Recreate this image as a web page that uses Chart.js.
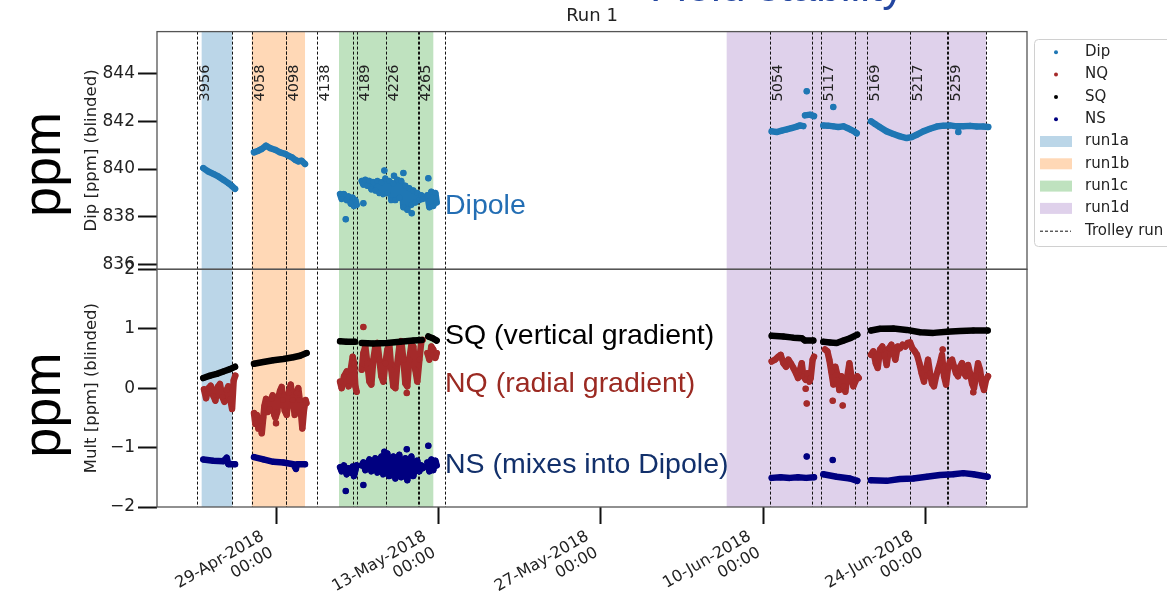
<!DOCTYPE html>
<html>
<head>
<meta charset="utf-8">
<script src="https://cdn.jsdelivr.net/npm/chart.js@4.4.1/dist/chart.umd.min.js"></script>
<style>
  html, body { margin: 0; padding: 0; background: #fff; overflow: hidden; }
</style>
</head>
<body>
<canvas id="run1" width="1167" height="592"></canvas>
<script>
// x values are days since 29-Apr-2018 00:00

const xTickDays = [0, 14, 28, 42, 56]
const xTickDates = ['29-Apr-2018', '13-May-2018', '27-May-2018', '10-Jun-2018', '24-Jun-2018']

const runNames = ['run1a', 'run1b', 'run1c', 'run1d']
const runStart = [-6.41, -2.09, 5.43, 38.85]
const runEnd = [-3.77, 2.50, 13.56, 61.21]

const trolleyDays = [-6.78, -3.77, -2.09, 0.82, 0.90, 3.51, 6.61, 7.01, 9.48, 12.23, 12.31, 14.57,
  42.59, 46.18, 46.98, 49.94, 50.92, 54.66, 57.87, 57.95, 61.21]
const trolleyRunNumbers = ['3956', '4058', '4098', '4138', '4189', '4226', '4265', '5054', '5117', '5169', '5217', '5259']
const trolleyLabelDays = [-6.78, -2.09, 0.86, 3.51, 7.01, 9.48, 12.27, 42.59, 46.98, 50.92, 54.66, 57.91]

// Dipole [ppm]
const dipSegments = [
  [[-6.27, 840.04], [-5.84, 839.90], [-5.41, 839.80], [-4.97, 839.69], [-4.54, 839.55], [-4.11, 839.41], [-3.82, 839.30], [-3.53, 839.17]],
  [[-1.90, 840.70], [-1.52, 840.77], [-1.23, 840.84], [-0.86, 840.98], [-0.52, 840.88], [-0.09, 840.81], [0.34, 840.70], [0.78, 840.64],
   [1.06, 840.56], [1.35, 840.50], [1.64, 840.39], [1.92, 840.32], [2.21, 840.35], [2.50, 840.21]],
  [[5.52, 838.95], [5.66, 838.75], [5.86, 838.95], [6.09, 838.70], [6.26, 838.85], [6.44, 838.55], [6.61, 838.80], [6.72, 838.45], [6.84, 838.70], [6.95, 838.50]],
  [[7.39, 839.50], [7.53, 839.35], [7.70, 839.55], [7.87, 839.30], [8.05, 839.50], [8.22, 839.15], [8.39, 839.45], [8.56, 839.10],
   [8.74, 839.50], [8.91, 839.00], [9.08, 839.45], [9.25, 838.95], [9.43, 839.60], [9.60, 839.00], [9.77, 839.50], [9.94, 838.70],
   [10.11, 839.40], [10.29, 838.70], [10.46, 839.55], [10.63, 838.80], [10.80, 839.50], [10.98, 838.40], [11.15, 839.30], [11.32, 838.30],
   [11.49, 839.20], [11.67, 838.50], [11.84, 839.10], [12.01, 838.60], [12.18, 839.00], [12.36, 838.70], [12.53, 838.90], [12.64, 838.75]],
  [[13.05, 838.90], [13.22, 838.40], [13.39, 839.05], [13.56, 838.45], [13.74, 839.00], [13.85, 838.60]],
  [[42.73, 841.58], [43.16, 841.55], [43.59, 841.61], [44.02, 841.66], [44.45, 841.72], [44.89, 841.78], [45.17, 841.83], [45.46, 841.80]],
  [[45.60, 842.25], [46.03, 842.28], [46.38, 842.22]],
  [[47.18, 841.83], [47.61, 841.82], [48.04, 841.79], [48.47, 841.76], [48.91, 841.79], [49.25, 841.72], [49.54, 841.65], [49.83, 841.58], [50.06, 841.50]],
  [[51.29, 842.00], [51.64, 841.89], [52.07, 841.75], [52.64, 841.58], [53.22, 841.47], [53.79, 841.37], [54.37, 841.30], [54.80, 841.34],
   [55.23, 841.44], [55.80, 841.58], [56.38, 841.69], [56.96, 841.78], [57.53, 841.82], [58.10, 841.83], [58.68, 841.79], [59.25, 841.79],
   [59.83, 841.81], [60.40, 841.78], [60.97, 841.78], [61.40, 841.76]]
]
const dipOutliers = [[6.01, 837.90], [7.53, 838.57], [9.34, 839.94], [10.17, 839.72], [10.98, 839.83], [13.13, 839.62],
  [11.70, 838.15], [45.75, 843.26], [48.04, 842.60], [58.82, 841.55]]

// Normal quadrupole [ppm]
const nqSegments = [
  [[-6.21, -0.02], [-6.03, -0.17], [-5.83, 0.00], [-5.63, 0.04], [-5.40, -0.13], [-5.23, -0.21], [-5.03, 0.02], [-4.83, 0.07],
   [-4.63, -0.15], [-4.45, -0.23], [-4.25, -0.03], [-4.11, 0.03], [-3.94, -0.19], [-3.79, -0.35], [-3.65, 0.13], [-3.51, 0.21]],
  [[-1.90, -0.42], [-1.78, -0.60], [-1.65, -0.45], [-1.52, -0.68], [-1.38, -0.55], [-1.23, -0.76], [-1.10, -0.50], [-1.00, -0.30],
   [-0.86, -0.18], [-0.70, -0.40], [-0.55, -0.35], [-0.40, -0.18], [-0.29, -0.12], [-0.15, -0.45], [-0.05, -0.50], [0.11, -0.40],
   [0.25, -0.12], [0.34, -0.05], [0.49, 0.02], [0.60, -0.20], [0.75, -0.38], [0.92, -0.45], [1.09, -0.08], [1.27, 0.06],
   [1.44, -0.20], [1.61, -0.45], [1.78, -0.08], [1.92, 0.00], [2.05, -0.20], [2.27, -0.68], [2.41, -0.37], [2.55, -0.20], [2.62, -0.25]],
  [[5.52, 0.11], [5.66, 0.00], [5.86, 0.20], [6.09, 0.28], [6.26, 0.03], [6.44, 0.31], [6.61, 0.53], [6.72, 0.42], [6.84, 0.03], [6.95, -0.06]],
  [[7.39, 0.31], [7.53, 0.59], [7.70, 0.70], [7.87, 0.42], [8.05, 0.11], [8.22, 0.06], [8.39, 0.48], [8.56, 0.70], [8.74, 0.76],
   [8.91, 0.48], [9.08, 0.20], [9.25, 0.11], [9.43, 0.42], [9.60, 0.65], [9.77, 0.73], [9.94, 0.31], [10.11, 0.03], [10.29, 0.00],
   [10.46, 0.42], [10.63, 0.70], [10.80, 0.79], [10.98, 0.48], [11.15, 0.08], [11.32, 0.03], [11.49, 0.48], [11.67, 0.73], [11.84, 0.70],
   [12.01, 0.31], [12.18, 0.11], [12.36, 0.48], [12.53, 0.79], [12.64, 0.81]],
  [[13.05, 0.59], [13.22, 0.48], [13.39, 0.70], [13.56, 0.65], [13.74, 0.51], [13.85, 0.59]],
  [[42.73, 0.45], [43.02, 0.48], [43.30, 0.53], [43.51, 0.56], [43.74, 0.42], [43.97, 0.36], [44.17, 0.48], [44.37, 0.42], [44.60, 0.34],
   [44.83, 0.25], [45.00, 0.17], [45.17, 0.31], [45.32, 0.42], [45.46, 0.20], [45.66, 0.14], [45.80, 0.25], [45.98, 0.11], [46.09, 0.17],
   [46.26, 0.48], [46.38, 0.53]],
  [[47.33, 0.65], [47.53, 0.62], [47.70, 0.48], [47.87, 0.28], [48.05, 0.06], [48.22, 0.36], [48.39, 0.22], [48.56, -0.03], [48.74, 0.20],
   [48.91, 0.03], [49.08, -0.06], [49.25, 0.20], [49.43, 0.42], [49.60, 0.20], [49.77, 0.03], [49.94, 0.11], [50.11, 0.20], [50.23, 0.17]],
  [[51.29, 0.56], [51.49, 0.62], [51.70, 0.42], [51.87, 0.34], [52.07, 0.65], [52.27, 0.70], [52.47, 0.56], [52.64, 0.39], [52.84, 0.67],
   [53.05, 0.73], [53.22, 0.59], [53.39, 0.48], [53.59, 0.70], [53.79, 0.67], [54.02, 0.73], [54.25, 0.70], [54.45, 0.76], [54.66, 0.77],
   [54.86, 0.67], [55.06, 0.62], [55.26, 0.56], [55.46, 0.42], [55.66, 0.25], [55.86, 0.11], [56.03, 0.31], [56.21, 0.48], [56.38, 0.25],
   [56.55, 0.08], [56.72, 0.03], [56.90, 0.20], [57.07, 0.31], [57.24, 0.42], [57.41, 0.56], [57.59, 0.20], [57.76, 0.06], [57.93, 0.34],
   [58.10, 0.45], [58.28, 0.48], [58.45, 0.36], [58.62, 0.25], [58.79, 0.20], [58.97, 0.36], [59.14, 0.42], [59.31, 0.25], [59.48, 0.20],
   [59.66, 0.39], [59.83, 0.25], [60.00, 0.08], [60.17, 0.00], [60.34, 0.20], [60.52, 0.42], [60.69, 0.31], [60.86, 0.08], [61.03, -0.03],
   [61.21, 0.14], [61.38, 0.20]]
]
const nqOutliers = [[7.53, 1.03], [11.27, -0.08], [0.00, -0.59], [45.66, -0.01], [45.75, -0.26], [47.99, -0.21], [48.85, -0.29],
  [57.47, 0.65], [60.11, -0.07]]

// Skew quadrupole [ppm]
const sqSegments = [
  [[-6.27, 0.17], [-5.69, 0.21], [-5.11, 0.24], [-4.54, 0.28], [-3.97, 0.32], [-3.53, 0.36]],
  [[-1.90, 0.41], [-1.09, 0.44], [-0.23, 0.47], [0.63, 0.49], [1.49, 0.52], [2.07, 0.545], [2.64, 0.59]],
  [[5.52, 0.79], [6.09, 0.78], [6.81, 0.78]],
  [[7.39, 0.76], [8.39, 0.75], [9.54, 0.76], [10.69, 0.78], [11.84, 0.80], [12.56, 0.81]],
  [[13.13, 0.87], [13.51, 0.84], [13.85, 0.80]],
  [[42.73, 0.88], [43.73, 0.87], [44.60, 0.85], [45.32, 0.84], [45.60, 0.80], [46.32, 0.80]],
  [[47.18, 0.78], [47.76, 0.77], [48.33, 0.76], [48.91, 0.80], [49.48, 0.84], [50.11, 0.90]],
  [[51.29, 0.97], [52.07, 1.00], [53.22, 1.005], [54.37, 0.98], [55.52, 0.94], [56.67, 0.93], [57.82, 0.95], [58.97, 0.96],
   [60.11, 0.97], [61.35, 0.97]]
]
const sqOutliers = []

// Normal sextupole [ppm]
const nsSegments = [
  [[-6.27, -1.20], [-5.41, -1.22], [-4.54, -1.23], [-4.25, -1.17], [-4.11, -1.28], [-3.53, -1.28]],
  [[-1.90, -1.16], [-1.09, -1.20], [-0.23, -1.24], [0.63, -1.25], [1.49, -1.28], [1.72, -1.36], [1.80, -1.28], [2.50, -1.28]],
  [[5.52, -1.33], [5.66, -1.40], [5.86, -1.30], [6.09, -1.45], [6.26, -1.35], [6.44, -1.42], [6.61, -1.32], [6.72, -1.48], [6.84, -1.38], [6.95, -1.30]],
  [[7.39, -1.30], [7.53, -1.25], [7.70, -1.38], [7.87, -1.28], [8.05, -1.20], [8.22, -1.40], [8.39, -1.28], [8.56, -1.18], [8.74, -1.42],
   [8.91, -1.30], [9.08, -1.15], [9.25, -1.45], [9.43, -1.25], [9.60, -1.10], [9.77, -1.48], [9.94, -1.30], [10.11, -1.15], [10.29, -1.52],
   [10.46, -1.30], [10.63, -1.12], [10.80, -1.50], [10.98, -1.25], [11.15, -1.18], [11.32, -1.55], [11.49, -1.30], [11.67, -1.15],
   [11.84, -1.48], [12.01, -1.30], [12.18, -1.22], [12.36, -1.40], [12.53, -1.30], [12.64, -1.35]],
  [[13.05, -1.25], [13.22, -1.40], [13.39, -1.20], [13.56, -1.38], [13.74, -1.22], [13.85, -1.30]],
  [[42.73, -1.51], [43.50, -1.50], [44.30, -1.51], [45.00, -1.50], [45.70, -1.51], [46.38, -1.50]],
  [[47.18, -1.45], [48.33, -1.49], [49.48, -1.52], [50.11, -1.56]],
  [[51.29, -1.55], [52.64, -1.56], [53.79, -1.53], [54.94, -1.52], [56.09, -1.49], [57.24, -1.46], [58.39, -1.45], [59.25, -1.43],
   [60.11, -1.45], [61.35, -1.49]]
]
const nsOutliers = [[6.01, -1.73], [7.53, -1.63], [9.34, -1.07], [11.27, -1.03], [13.13, -0.97], [45.75, -1.15], [47.99, -1.21]]

const legendLabels = ['Dip', 'NQ', 'SQ', 'NS', 'run1a', 'run1b', 'run1c', 'run1d', 'Trolley run']

const seriesColors = ['#1f77b4', '#a52a2a', '#000000', '#000080']
const bandColors = ['rgba(31,119,180,0.3)', 'rgba(255,127,14,0.3)', 'rgba(44,160,44,0.3)', 'rgba(148,103,189,0.3)']
const mpl = '"DejaVu Sans", sans-serif'
const slide = '"Liberation Sans", Arial, sans-serif'

function series(label, segs, outliers, color, axis, order) {
  let pts = []
  segs.concat(outliers.map(p => [p])).forEach((seg, i) => {
    if (i > 0) pts.push({ x: seg[0][0], y: null })
    seg.forEach(p => pts.push({ x: p[0], y: p[1] }))
  })
  return {
    label: label, data: pts, yAxisID: axis, order: order,
    showLine: true, spanGaps: false,
    borderColor: color, backgroundColor: color, pointBackgroundColor: color,
    borderWidth: 6.5, borderJoinStyle: 'round', borderCapStyle: 'round',
    pointRadius: 3, pointBorderWidth: 0, pointHoverRadius: 3
  }
}

let decor = {
  id: 'decor',
  beforeDatasetsDraw(chart) {
    let ctx = chart.ctx, a = chart.chartArea, x = chart.scales.x, yDip = chart.scales.yDip
    ctx.save()
    runNames.forEach((n, i) => {
      let x0 = x.getPixelForValue(runStart[i]), x1 = x.getPixelForValue(runEnd[i])
      ctx.fillStyle = bandColors[i]
      ctx.fillRect(x0, a.top, x1 - x0, a.bottom - a.top)
    })
    ctx.strokeStyle = '#111'
    ctx.lineWidth = 1
    ctx.setLineDash([3, 2])
    trolleyDays.forEach(d => {
      let px = Math.round(x.getPixelForValue(d)) + 0.5
      ctx.beginPath()
      ctx.moveTo(px, a.top)
      ctx.lineTo(px, a.bottom)
      ctx.stroke()
    })
    ctx.setLineDash([])
    ctx.fillStyle = '#222'
    ctx.font = '14.5px ' + mpl
    ctx.textAlign = 'left'
    ctx.textBaseline = 'top'
    trolleyLabelDays.forEach((d, i) => {
      ctx.save()
      ctx.translate(x.getPixelForValue(d) + 1, yDip.getPixelForValue(842.83))
      ctx.rotate(-Math.PI / 2)
      ctx.fillText(trolleyRunNumbers[i], 0, 0)
      ctx.restore()
    })
    ctx.restore()
  },
  afterDraw(chart) {
    let ctx = chart.ctx, a = chart.chartArea, x = chart.scales.x
    let yDip = chart.scales.yDip, yMult = chart.scales.yMult
    ctx.save()
    // panel frames
    ctx.strokeStyle = '#555'
    ctx.lineWidth = 1.3
    ctx.strokeRect(a.left, yDip.top, a.right - a.left, yDip.bottom - yDip.top)
    ctx.strokeRect(a.left, yMult.top, a.right - a.left, yMult.bottom - yMult.top)

    // date tick labels, two lines, rotated 30 deg, right aligned on the tick
    let fs = 16, lh = 1.17 * fs
    ctx.font = fs + 'px ' + mpl
    ctx.fillStyle = '#222'
    ctx.textAlign = 'right'
    ctx.textBaseline = 'alphabetic'
    x.ticks.forEach((t, i) => {
      ctx.save()
      ctx.translate(x.getPixelForValue(t.value) - lh, a.bottom + 19)
      ctx.rotate(-Math.PI / 6)
      ctx.fillText(xTickDates[i], 0, 0.93 * fs)
      ctx.fillText('00:00', 0, 0.93 * fs + lh)
      ctx.restore()
    })

    // big "ppm" labels from the slide
    ctx.fillStyle = '#000'
    ctx.font = '54px ' + slide
    ctx.textAlign = 'center'
    ;[(yDip.top + yDip.bottom) / 2 + 14, (yMult.top + yMult.bottom) / 2 + 17].forEach(cy => {
      ctx.save()
      ctx.translate(60, cy)
      ctx.rotate(-Math.PI / 2)
      ctx.fillText('ppm', 0, 0)
      ctx.restore()
    })

    // slide annotations
    ctx.textAlign = 'left'
    ctx.font = '28.5px ' + slide
    ctx.fillStyle = '#236eb4'
    ctx.fillText('Dipole', 445, 214)
    ctx.fillStyle = '#000'
    ctx.fillText('SQ (vertical gradient)', 445, 344)
    ctx.fillStyle = '#9b2a22'
    ctx.fillText('NQ (radial gradient)', 445, 392)
    ctx.fillStyle = '#12306b'
    ctx.fillText('NS (mixes into Dipole)', 445, 473)

    // clipped slide heading at the very top
    ctx.font = '44px ' + slide
    ctx.fillStyle = '#2346a0'
    ctx.fillText('Field stability', 650, 0.5)

    // legend
    let lx = 1034.5, ly = 39.5
    ctx.fillStyle = '#fff'
    ctx.strokeStyle = '#d0d0d0'
    ctx.lineWidth = 1
    ctx.beginPath()
    ctx.roundRect(lx, ly, 160, 207, 4)
    ctx.fill()
    ctx.stroke()
    ctx.font = '15px ' + mpl
    ctx.textBaseline = 'middle'
    legendLabels.forEach((t, i) => {
      let cy = 52.3 + i * 22.3
      if (i < 4) {
        ctx.fillStyle = seriesColors[i]
        ctx.beginPath()
        ctx.arc(1056, cy, 2, 0, Math.PI * 2)
        ctx.fill()
      } else if (i < 8) {
        ctx.fillStyle = bandColors[i - 4]
        ctx.fillRect(1040, cy - 5.5, 32, 11)
      } else {
        ctx.strokeStyle = '#111'
        ctx.setLineDash([3, 2])
        ctx.beginPath()
        ctx.moveTo(1040, cy + 0.5)
        ctx.lineTo(1071, cy + 0.5)
        ctx.stroke()
        ctx.setLineDash([])
      }
      ctx.fillStyle = '#222'
      ctx.fillText(t, 1085, cy)
    })
    ctx.restore()
  }
}

let axisGrid = { drawOnChartArea: false, drawTicks: true, tickLength: 19, tickWidth: 2, tickColor: '#111' }

let run1Chart = new Chart(document.getElementById('run1'), {
  type: 'scatter',
  data: {
    datasets: [
      series('Dip', dipSegments, dipOutliers, seriesColors[0], 'yDip', 4),
      series('NQ', nqSegments, nqOutliers, seriesColors[1], 'yMult', 3),
      series('SQ', sqSegments, sqOutliers, seriesColors[2], 'yMult', 1),
      series('NS', nsSegments, nsOutliers, seriesColors[3], 'yMult', 2)
    ]
  },
  options: {
    responsive: false,
    animation: false,
    devicePixelRatio: 1,
    layout: { padding: { left: 80, right: 140, top: 0, bottom: 0 } },
    plugins: {
      legend: { display: false },
      tooltip: { enabled: false },
      title: {
        display: true, text: 'Run 1', fullSize: false, color: '#222',
        font: { family: mpl, size: 18, weight: 'normal' }, padding: { top: 6, bottom: 4 }
      }
    },
    scales: {
      x: {
        type: 'linear', position: 'bottom', min: -10.26, max: 64.74,
        afterBuildTicks: s => { s.ticks = xTickDays.map(v => ({ value: v })) },
        afterFit: s => { s.height = 85 },
        grid: { drawOnChartArea: false, drawTicks: true, tickLength: 17, tickWidth: 2, tickColor: '#111' },
        border: { display: false },
        ticks: { display: false, autoSkip: false }
      },
      yMult: {
        type: 'linear', position: 'left', stack: 'panels', stackWeight: 1, weight: 1,
        min: -2, max: 2,
        afterFit: s => { s.width = 77 },
        grid: axisGrid,
        border: { display: false },
        ticks: {
          stepSize: 1, includeBounds: false, padding: 3, color: '#222', font: { family: mpl, size: 17 },
          callback: v => String(v).replace('-', '\u2212')
        },
        title: { display: true, text: 'Mult [ppm] (blinded)', color: '#222', font: { family: mpl, size: 16.5 }, padding: { top: 2, bottom: 0 } }
      },
      yDip: {
        type: 'linear', position: 'left', stack: 'panels', stackWeight: 1, weight: 2,
        min: 835.8, max: 845.76,
        afterFit: s => { s.width = 77 },
        grid: axisGrid,
        border: { display: false },
        ticks: { stepSize: 2, includeBounds: false, padding: 3, color: '#222', font: { family: mpl, size: 17 } },
        title: { display: true, text: 'Dip [ppm] (blinded)', color: '#222', font: { family: mpl, size: 16.5 }, padding: { top: 2, bottom: 0 } }
      }
    }
  },
  plugins: [decor]
})
</script>
</body>
</html>
